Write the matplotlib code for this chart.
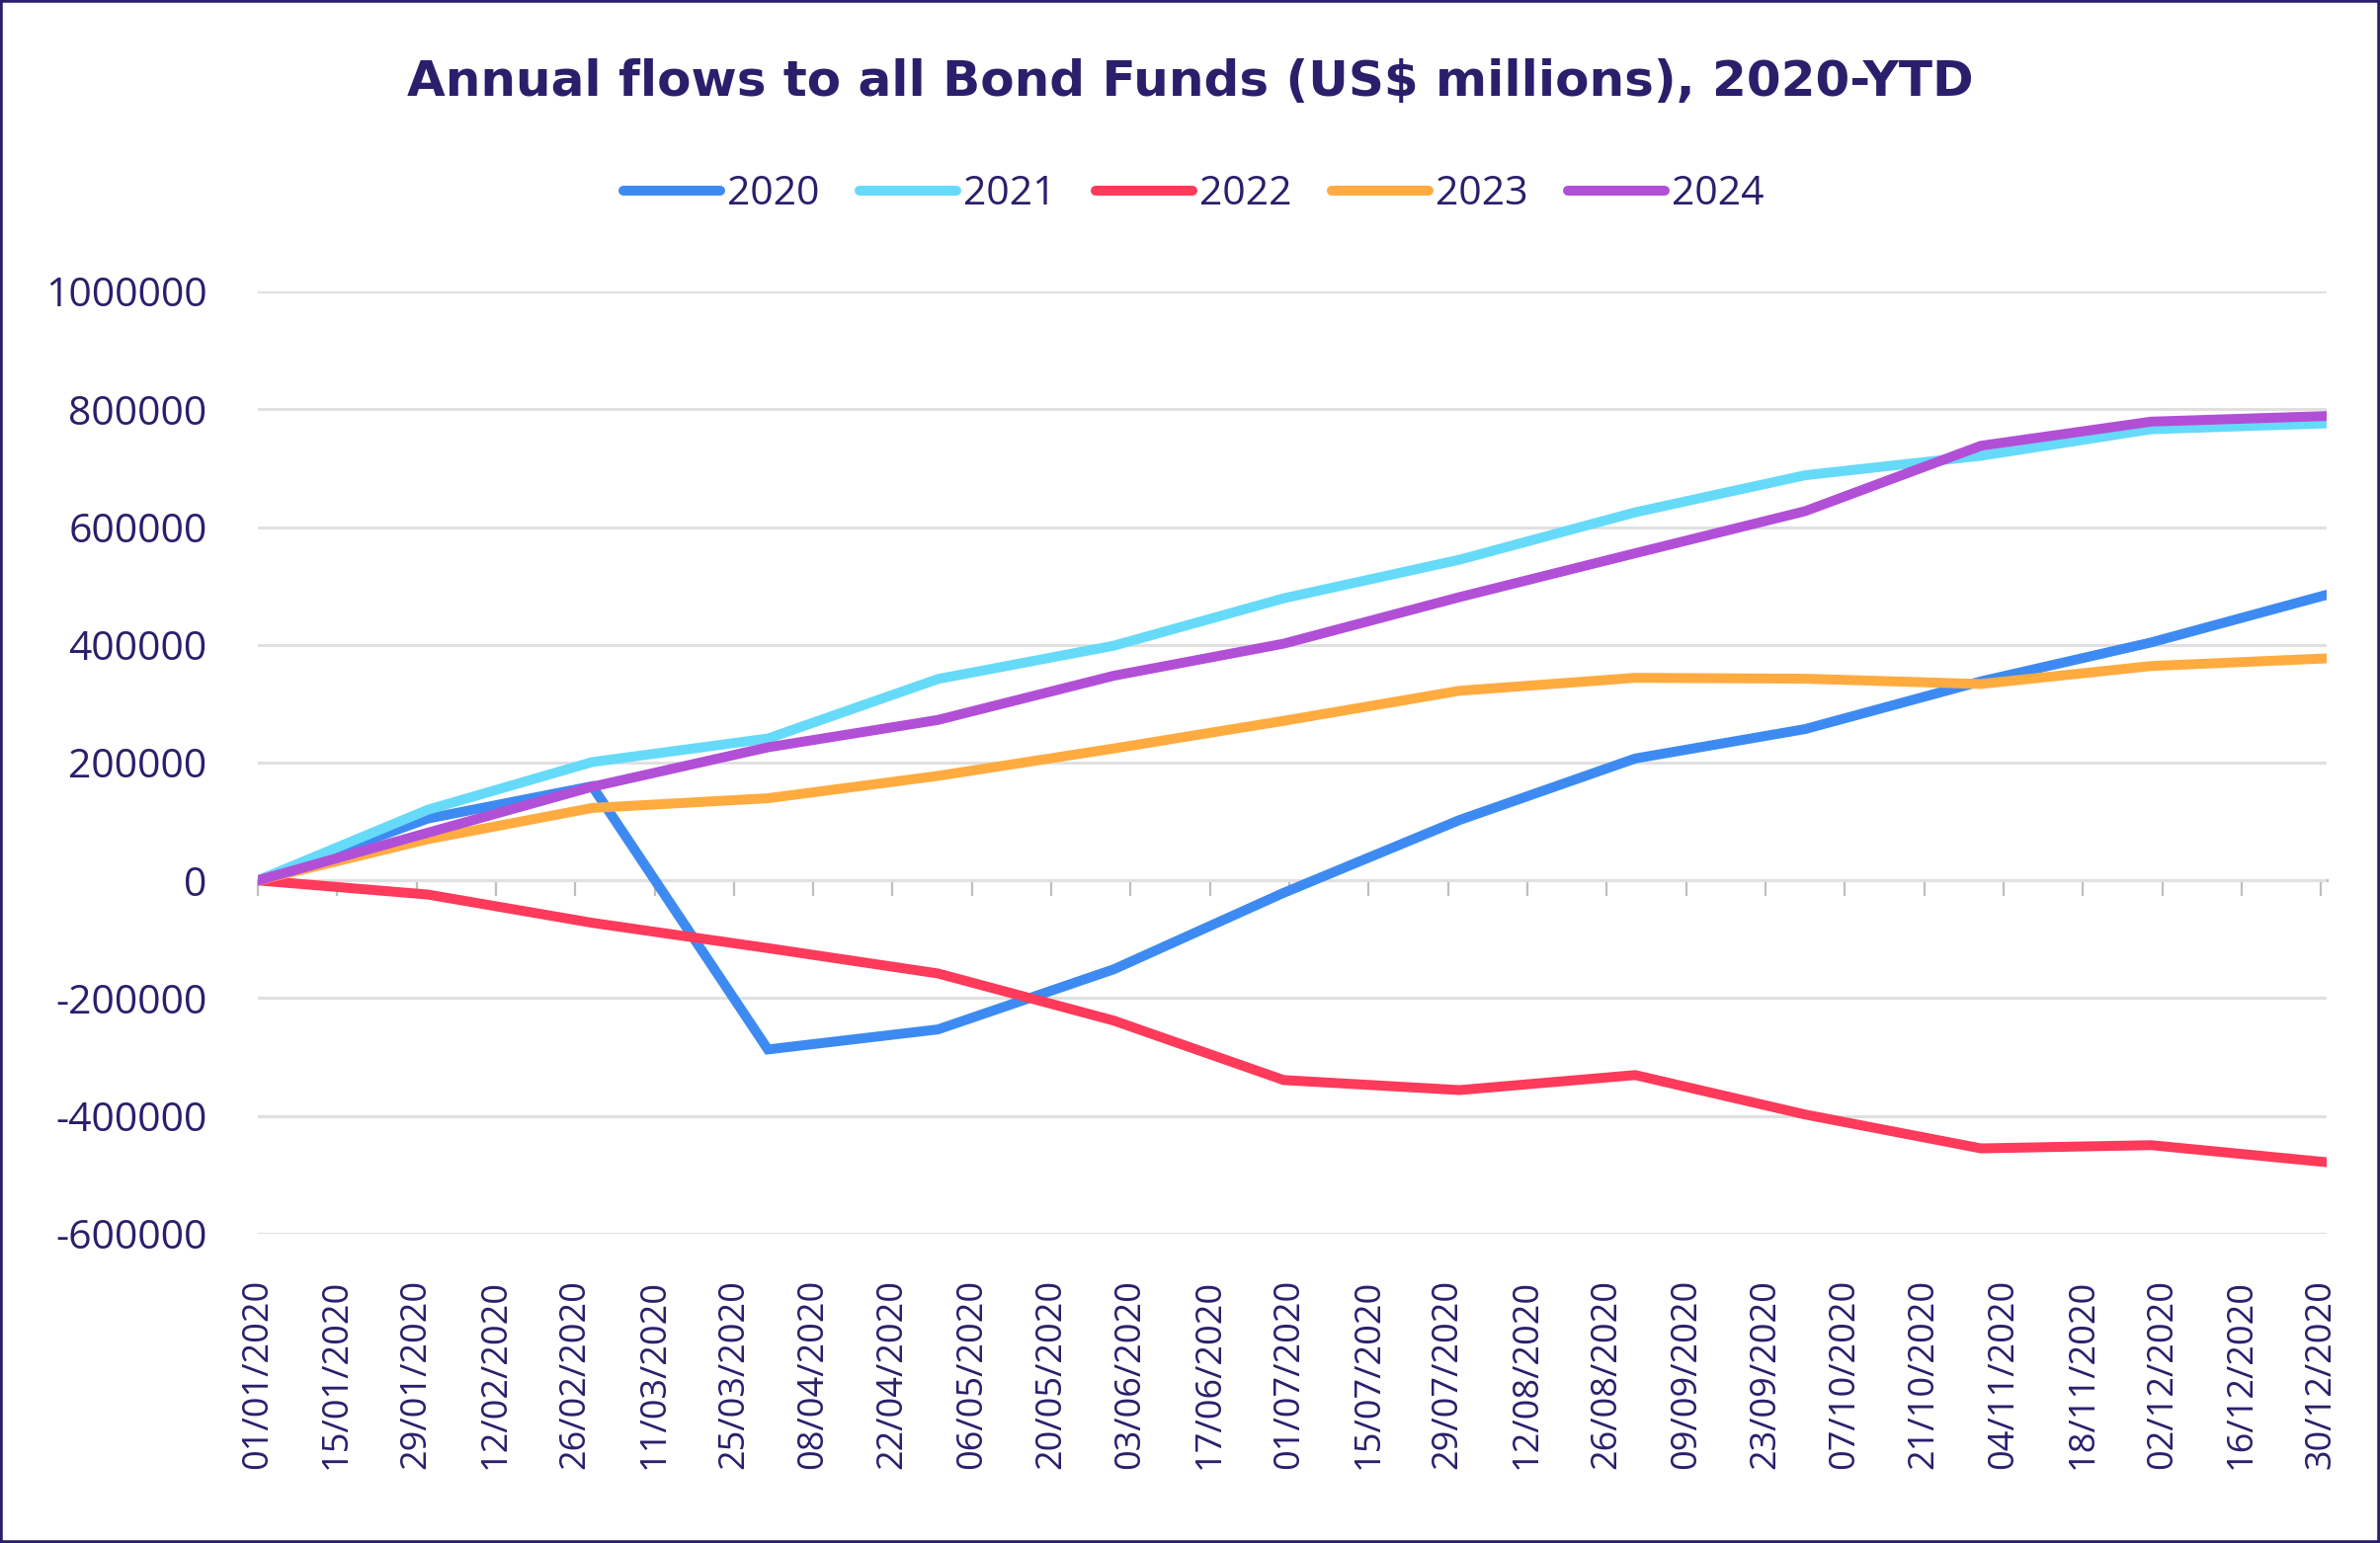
import matplotlib
matplotlib.use("Agg")
import matplotlib.pyplot as plt
import matplotlib.dates as mdates
import pandas as pd
from matplotlib.patches import Rectangle

# month-end points (plus the starting point) on a 2020 calendar
dates = pd.to_datetime(["2020-01-01", "2020-01-31", "2020-02-29", "2020-03-31",
                        "2020-04-30", "2020-05-31", "2020-06-30", "2020-07-31",
                        "2020-08-31", "2020-09-30", "2020-10-31", "2020-11-30",
                        "2020-12-31"])

flows_2020 = [0, 105000, 160000, -287000, -253000, -151000, -21000, 102500,
              207000, 257000, 338000, 404000, 485000]
flows_2021 = [0, 120000, 201000, 241000, 342000, 398500, 479000, 544500,
              625000, 688000, 721000, 766000, 776000]
flows_2022 = [0, -24000, -72000, -115000, -158000, -238000, -339000, -356000,
              -330500, -397500, -455000, -449500, -478500]
flows_2023 = [0, 70000, 123000, 139500, 177500, 224000, 271000, 322000,
              344000, 342500, 333500, 364000, 377000]
flows_2024 = [0, 81000, 159000, 226000, 272500, 347500, 402000, 481000,
              555500, 627000, 738000, 779000, 788500]

series = ["2020", "2021", "2022", "2023", "2024"]
colors = ["#3D8BF2", "#66DAF9", "#FF3A5A", "#FFAB40", "#B24FD7"]
yticks = [-600000, -400000, -200000, 0, 200000, 400000, 600000, 800000, 1000000]
tick_dates = pd.date_range("2020-01-01", "2020-12-30", freq="14D")

navy = "#2A1F6B"
plt.rcParams['font.family'] = ['Open Sans', 'DejaVu Sans']

fig = plt.figure(figsize=(24.09, 15.62), dpi=100)
ax = fig.add_axes([0.1083, 0.2004, 0.8693, 0.6107])

for name, vals, c in zip(series, [flows_2020, flows_2021, flows_2022, flows_2023, flows_2024], colors):
    ax.plot(dates, vals, color=c, lw=7.2, label=name, solid_capstyle='round',
            solid_joinstyle='miter', zorder=3)

ax.set_ylim(-600000, 1000000)
ax.set_xlim(pd.Timestamp("2020-01-01"), pd.Timestamp("2020-12-31"))
ax.set_yticks(yticks)
ax.set_yticklabels([str(v) for v in yticks])
ax.tick_params(axis='y', length=0, pad=37, labelsize=29.5, labelcolor=navy)
ax.grid(axis='y', color="#E0E0E0", lw=2.2, zorder=0)
ax.grid(axis='x', visible=False)
for s in ["top", "right", "left"]:
    ax.spines[s].set_visible(False)

# category axis crossing at zero, with tick marks below it
ax.spines["bottom"].set_position(("data", 0))
ax.spines["bottom"].set_color("#BFBFBF")
ax.spines["bottom"].set_linewidth(2.2)
ax.spines["bottom"].set_zorder(1)
ax.set_xticks(tick_dates)
ax.tick_params(axis='x', direction='out', length=11.5, width=1.6, color="#BFBFBF",
               labelbottom=False)

# labels sit at the bottom of the plot
sec = ax.secondary_xaxis('bottom')
sec.set_xticks(tick_dates)
sec.xaxis.set_major_formatter(mdates.DateFormatter("%d/%m/%Y"))
sec.tick_params(axis='x', length=0, pad=33, labelsize=26, labelcolor=navy, labelrotation=90)
sec.spines["bottom"].set_visible(False)

fig.text(0.5, 0.947, "Annual flows to all Bond Funds (US$ millions), 2020-YTD",
         ha='center', va='center', fontsize=36, fontweight='bold', color=navy,
         family='DejaVu Sans')

ax.legend(loc='center', bbox_to_anchor=(0.5015, 0.874), bbox_transform=fig.transFigure,
          ncol=5, frameon=False, fontsize=29.5, labelcolor=navy, handlelength=2.4,
          handletextpad=0.15, columnspacing=1.0)

fig.patches.append(Rectangle((0, 0), 1, 1, transform=fig.transFigure, fill=False,
                             edgecolor=navy, lw=4, zorder=10))

fig.savefig("out.png", dpi=100, facecolor="white")
